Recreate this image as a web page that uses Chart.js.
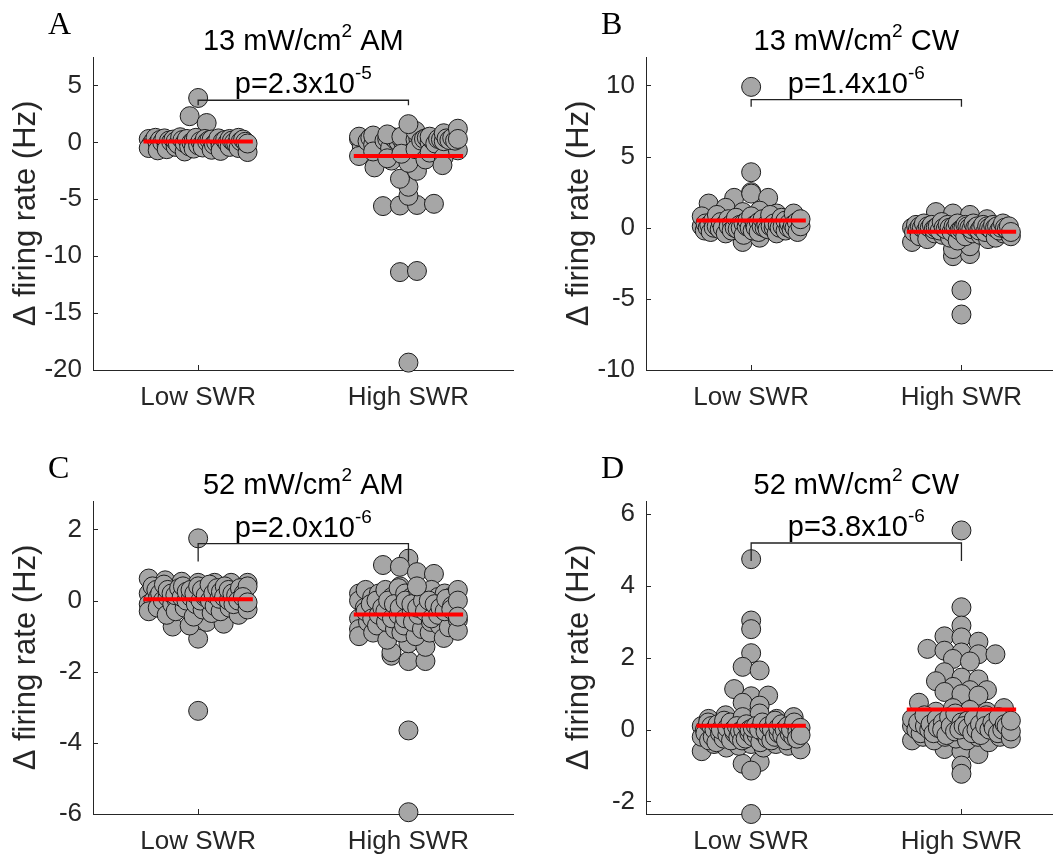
<!DOCTYPE html>
<html>
<head>
<meta charset="utf-8">
<script src="https://cdn.jsdelivr.net/npm/chart.js@4/dist/chart.umd.min.js"></script>
<style>
  html, body { margin: 0; padding: 0; background: #ffffff; width: 1053px; height: 856px; overflow: hidden; }
  canvas.panel { position: absolute; }
</style>
</head>
<body>
<canvas id="panelA" class="panel" width="540" height="420" style="left:0px;top:0px;width:540px;height:420px"></canvas>
<canvas id="panelB" class="panel" width="540" height="420" style="left:553px;top:0px;width:540px;height:420px"></canvas>
<canvas id="panelC" class="panel" width="540" height="420" style="left:0px;top:444px;width:540px;height:420px"></canvas>
<canvas id="panelD" class="panel" width="540" height="420" style="left:553px;top:444px;width:540px;height:420px"></canvas>
<script>
// ---- categories and labels ----
const categories = ['Low SWR', 'High SWR'];
const panelLetters = ['A', 'B', 'C', 'D'];
const panelTitles = [
  ['13 mW/cm', '2', ' AM'],
  ['13 mW/cm', '2', ' CW'],
  ['52 mW/cm', '2', ' AM'],
  ['52 mW/cm', '2', ' CW']
];
const pValueTexts = [
  ['p=2.3x10', '-5'],
  ['p=1.4x10', '-6'],
  ['p=2.0x10', '-6'],
  ['p=3.8x10', '-6']
];
const yAxisLabel = '\u0394 firing rate (Hz)';

// ---- y axis ranges and ticks ----
const yMinValues = [-20, -10, -6, -2.35];
const yMaxValues = [7.5, 12, 2.8, 6.37];
const yTicksA = [-20, -15, -10, -5, 0, 5];
const yTicksB = [-10, -5, 0, 5, 10];
const yTicksC = [-6, -4, -2, 0, 2];
const yTicksD = [-2, 0, 2, 4, 6];

// ---- significance brackets (level of bar, end of the short drops) ----
const bracketLevels = [3.7, 9.0, 1.6, 5.2];
const bracketEnds = [3.25, 8.5, 1.1, 4.7];

// ---- change in firing rate per unit (Hz) ----
const am13Low = [3.9, 2.3, 1.7, 0.3, -0.2, 0.1, -0.5, 0.4, -0.1, 0.2, -0.7, 0.0, 0.35, -0.3, 0.15, -0.6, 0.05, 0.25, -0.4, 0.1, -0.15, 0.45, -0.8, 0.2, -0.05, 0.3, -0.35, 0.0, 0.15, -0.55, 0.4, -0.25, 0.1, -0.1, 0.3, -0.45, 0.05, 0.2, -0.65, 0.25, -0.2, 0.0, 0.35, -0.3, 0.1, -0.75, 0.2, -0.05, 0.3, -0.4, 0.15, 0.0, -0.15, 0.4, -0.5, 0.1, 0.25, -0.85, 0.05, -0.1];
const am13High = [-19.35, -11.4, -11.3, -5.6, -5.55, -5.5, -5.4, -4.7, -3.9, -3.2, -2.5, -2.2, 0.3, -0.4, 0.2, 0.5, -1.2, 0.1, 0.4, -0.2, 0.25, -1.6, 0.35, 0.0, 0.6, -0.8, 0.15, 0.3, -0.5, 0.45, 0.2, -1.4, 0.05, 0.3, 0.7, -0.3, 0.4, -1.8, 0.2, 0.1, 0.5, -1.0, 0.25, 0.35, -0.6, 1.0, 0.15, -1.5, 0.3, 0.4, 0.0, -0.9, 0.2, 0.5, 1.6, -0.1, 0.3, -1.3, 0.25, 0.1, 0.8, -0.7, 0.35, 0.2, -2.0, 0.4, 0.15, 1.2, 0.3];
const cw13Low = [9.9, 3.9, 2.1, 2.5, 2.4, 2.1, 1.7, 1.4, -1.0, -0.7, 0.1, 0.8, -0.2, 0.3, 0.0, 1.1, 0.2, -0.3, 0.5, 0.0, 0.9, 0.1, -0.1, 0.4, 0.2, 1.2, 0.0, -0.4, 0.6, 0.1, 0.3, -0.2, 0.0, 0.7, 0.2, -0.1, 1.0, 0.0, 0.3, -0.5, 0.1, 0.5, 0.0, -0.2, 0.8, 0.2, 0.0, 0.4, -0.3, 0.1, 0.6, 0.0, 0.2, -0.1, 0.9, 0.1, 0.0, 0.3, -0.4, 0.2, 0.7, 0.0, 0.1, -0.2, 0.5, 0.0, 0.3, 1.0, -0.1, 0.2, 0.0, 0.4, -0.3, 0.1, 0.6];
const cw13High = [-6.1, -4.4, -2.0, -1.85, -1.5, -1.3, -1.0, 1.1, 1.0, 0.9, 0.6, 0.0, -0.3, 0.2, -0.1, 0.1, -0.6, 0.0, 0.3, -0.2, -0.8, 0.1, 0.0, -0.4, 0.2, -0.1, 0.0, -0.5, 0.1, -0.2, 0.4, 0.0, -0.7, -0.1, 0.2, 0.0, -0.3, 0.1, -0.9, 0.0, 0.3, -0.2, -0.1, 0.0, -0.6, 0.2, 0.1, -0.4, 0.0, -0.1, 0.3, -0.5, 0.0, 0.1, -0.2, -0.8, 0.0, 0.2, -0.3, 0.1, 0.0, -0.1, -0.7, 0.2, 0.0, -0.4, 0.1, -0.2, 0.0, 0.3, -0.6, 0.0, -0.1, 0.1, -0.3];
const am52Low = [1.75, -3.1, -1.07, -0.73, -0.7, -0.6, -0.65, 0.62, 0.57, 0.53, 0.2, -0.1, 0.4, 0.0, 0.3, -0.3, 0.1, 0.5, -0.2, 0.2, 0.0, 0.45, -0.4, 0.1, 0.3, -0.1, 0.2, 0.0, 0.5, -0.3, 0.15, 0.35, -0.2, 0.1, 0.4, 0.0, -0.45, 0.25, 0.1, 0.3, -0.1, 0.2, 0.5, -0.25, 0.0, 0.4, 0.1, -0.35, 0.3, 0.15, 0.0, 0.45, -0.15, 0.2, 0.35, -0.3, 0.05, 0.25, 0.4, -0.2, 0.1, 0.0, 0.3, -0.4, 0.2, 0.5, -0.1, 0.15, 0.35, 0.0, -0.25, 0.2, 0.4, 0.1, -0.05];
const am52High = [-5.95, -3.65, 1.18, 1.0, 0.95, 0.8, 0.75, -1.55, -1.7, -1.7, -1.45, -1.2, -1.3, 0.2, -0.5, 0.0, -0.8, 0.3, -0.2, -1.0, 0.1, -0.6, -0.3, 0.4, -0.9, -0.1, -0.5, 0.2, -0.7, 0.0, -0.4, -1.1, 0.3, -0.2, -0.6, 0.1, -0.8, -0.3, 0.0, -0.5, 0.35, -0.9, -0.1, -0.4, 0.2, -0.7, -0.2, 0.1, -1.0, -0.5, 0.0, -0.3, 0.25, -0.6, -0.8, 0.15, -0.1, -0.4, 0.3, -0.9, -0.2, 0.0, -0.6, 0.1, -0.3, -0.7, 0.2, -0.5, 0.0, -1.05, -0.1, 0.4, -0.4, -0.2, 0.1, -0.75, -0.3, 0.05, -0.55, -0.15, 0.3, -0.85, -0.25, 0.0, -0.45];
const cw52Low = [4.75, 3.04, 2.8, 2.13, 1.75, 1.65, 1.13, 0.93, 0.95, 0.75, 0.67, -0.95, -0.9, -1.14, -0.6, -2.35, 0.1, -0.2, 0.3, -0.4, 0.0, -0.1, 0.2, -0.3, -0.5, 0.1, -0.2, 0.0, 0.4, -0.35, -0.1, 0.15, -0.25, 0.0, -0.45, 0.25, -0.15, 0.05, -0.3, 0.2, -0.1, 0.0, -0.4, 0.35, -0.2, 0.1, -0.05, -0.3, 0.0, 0.45, -0.25, -0.1, 0.15, -0.5, 0.0, -0.2, 0.3, -0.15, 0.05, -0.35, 0.1, -0.1, 0.0, -0.25, 0.2, -0.4, -0.05, 0.1, -0.3, 0.0, 0.25, -0.2, -0.1, 0.05, -0.45, 0.15, -0.15, 0.0, -0.3, 0.35, -0.1, 0.1, -0.2, 0.0, -0.55, 0.2, -0.05, -0.25, 0.05, -0.15];
const cw52High = [5.55, 3.41, 2.9, 2.6, 2.57, 2.45, 2.25, 2.2, 2.15, 2.1, 2.1, 1.97, 1.9, 1.6, 1.45, 1.4, 1.35, 1.19, 1.1, 1.1, 1.05, 0.99, 0.95, 0.75, -0.54, -0.6, -0.68, -1.0, -1.23, -0.3, 0.1, -0.2, 0.3, 0.0, 0.5, -0.1, 0.2, 0.6, -0.3, 0.1, 0.0, 0.4, -0.2, 0.15, 0.3, -0.1, 0.05, 0.55, -0.25, 0.2, 0.0, 0.35, -0.15, 0.1, 0.45, -0.05, 0.2, -0.3, 0.0, 0.25, 0.1, -0.2, 0.5, 0.05, -0.1, 0.3, 0.0, -0.35, 0.15, 0.4, -0.15, 0.1, 0.0, 0.6, -0.2, 0.2, 0.05, -0.1, 0.35, 0.0, -0.25, 0.15, 0.1, -0.05, 0.25];

// ---- shared drawing geometry (canvas pixels) ----
const SANS = '"Liberation Sans", Arial, sans-serif';
const SERIF = '"Liberation Serif", "Times New Roman", serif';
const INK = '#262626';
const AREA = { left: 93, top: 57, right: 513.6, bottom: 370 };
const X_MIN = 0.5, X_MAX = 2.5;
const MARKER_R = 9.5;
const SPREAD_HALF = 0.235;   // half width of each swarm, x units
const MEAN_HALF = 0.26;      // half length of the mean bar, x units

function mean(arr) { return arr.reduce((s, v) => s + v, 0) / arr.length; }

// Spread points sideways: values are grouped into narrow horizontal bins,
// and each bin's points are laid out evenly around the category centre.
function swarm(values, centre, yMin, yMax) {
  const pxX = (AREA.right - AREA.left) / (X_MAX - X_MIN);
  const pxY = (AREA.bottom - AREA.top) / (yMax - yMin);
  const diam = 2 * MARKER_R + 1;
  const binH = diam * 0.55 / pxY;
  const lo = Math.min(...values);
  const bins = new Map();
  values.forEach((v, i) => {
    const b = Math.round((v - lo) / binH);
    if (!bins.has(b)) bins.set(b, []);
    bins.get(b).push(i);
  });
  const xs = new Array(values.length);
  const maxHalfPx = SPREAD_HALF * pxX;
  bins.forEach(idx => {
    const k = idx.length;
    const step = k > 1 ? Math.min(diam * 0.85, 2 * maxHalfPx / (k - 1)) : 0;
    idx.forEach((i, j) => { xs[i] = centre + ((j - (k - 1) / 2) * step) / pxX; });
  });
  return values.map((v, i) => ({ x: xs[i], y: v }));
}

function drawSupText(ctx, parts, cx, baseline, size, supSize, supRise) {
  ctx.font = `${size}px ${SANS}`;
  const w1 = ctx.measureText(parts[0]).width;
  const w3 = parts[2] ? ctx.measureText(parts[2]).width : 0;
  ctx.font = `${supSize}px ${SANS}`;
  const w2 = ctx.measureText(parts[1]).width;
  let x = cx - (w1 + w2 + w3) / 2;
  ctx.textAlign = 'left';
  ctx.textBaseline = 'alphabetic';
  ctx.font = `${size}px ${SANS}`;
  ctx.fillText(parts[0], x, baseline);
  x += w1;
  ctx.font = `${supSize}px ${SANS}`;
  ctx.fillText(parts[1], x, baseline - supRise);
  x += w2;
  if (parts[2]) {
    ctx.font = `${size}px ${SANS}`;
    ctx.fillText(parts[2], x, baseline);
  }
}

// Inward tick marks, panel letter, title, y label, bracket and p value.
const decorPlugin = {
  id: 'decor',
  beforeDatasetsDraw(chart) {
    const { ctx, chartArea: a, scales: { x, y } } = chart;
    ctx.save();
    ctx.strokeStyle = INK;
    ctx.lineWidth = 1;
    ctx.beginPath();
    y.ticks.forEach(t => {
      const py = Math.round(y.getPixelForValue(t.value)) + 0.5;
      ctx.moveTo(a.left, py); ctx.lineTo(a.left + 5, py);
    });
    x.ticks.forEach(t => {
      const px = Math.round(x.getPixelForValue(t.value)) + 0.5;
      ctx.moveTo(px, a.bottom); ctx.lineTo(px, a.bottom - 5);
    });
    ctx.stroke();
    ctx.restore();
  },
  afterDraw(chart, args, opts) {
    const { ctx, chartArea: a, scales: { x, y } } = chart;
    ctx.save();
    // panel letter
    ctx.fillStyle = '#000000';
    ctx.font = `32px ${SERIF}`;
    ctx.textAlign = 'left';
    ctx.textBaseline = 'alphabetic';
    ctx.fillText(opts.letter, 48, 34);
    // title
    const cx = (a.left + a.right) / 2;
    drawSupText(ctx, opts.title, cx, 50, 29, 19, 13);
    // y axis label
    ctx.save();
    ctx.translate(26, (a.top + a.bottom) / 2);
    ctx.rotate(-Math.PI / 2);
    ctx.font = `31px ${SANS}`;
    ctx.fillStyle = INK;
    ctx.textAlign = 'center';
    ctx.textBaseline = 'middle';
    ctx.fillText(yAxisLabel, 0, 0);
    ctx.restore();
    // significance bracket
    const x1 = x.getPixelForValue(1), x2 = x.getPixelForValue(2);
    const yb = y.getPixelForValue(opts.bracket), ye = y.getPixelForValue(opts.bracketEnd);
    ctx.strokeStyle = '#222222';
    ctx.lineWidth = 1.3;
    ctx.beginPath();
    ctx.moveTo(x1, ye); ctx.lineTo(x1, yb); ctx.lineTo(x2, yb); ctx.lineTo(x2, ye);
    ctx.stroke();
    ctx.fillStyle = '#000000';
    drawSupText(ctx, opts.pText, x.getPixelForValue(1.5), yb - 7, 29, 19, 14);
    ctx.restore();
  }
};

function makePanel(canvasId, k, low, high, yTicks) {
  const yMin = yMinValues[k], yMax = yMaxValues[k];
  const lowMean = mean(low), highMean = mean(high);
  const pointStyle = {
    type: 'scatter',
    backgroundColor: '#a6a6a6',
    borderColor: '#1c1c1c',
    borderWidth: 1,
    pointRadius: MARKER_R,
    pointHoverRadius: MARKER_R,
    order: 2,
    clip: false
  };
  const meanStyle = {
    type: 'line',
    borderColor: '#ff0000',
    borderWidth: 4,
    borderCapStyle: 'butt',
    pointRadius: 0,
    fill: false,
    order: 0,
    clip: false
  };
  new Chart(document.getElementById(canvasId), {
    type: 'scatter',
    data: {
      datasets: [
        Object.assign({ data: [{ x: 1 - MEAN_HALF, y: lowMean }, { x: 1 + MEAN_HALF, y: lowMean }] }, meanStyle),
        Object.assign({ data: [{ x: 2 - MEAN_HALF, y: highMean }, { x: 2 + MEAN_HALF, y: highMean }] }, meanStyle),
        Object.assign({ data: swarm(low, 1, yMin, yMax) }, pointStyle),
        Object.assign({ data: swarm(high, 2, yMin, yMax) }, pointStyle)
      ]
    },
    options: {
      responsive: false,
      animation: false,
      events: [],
      layout: { padding: { left: 0, top: AREA.top, right: 540 - AREA.right, bottom: 0 } },
      plugins: {
        legend: { display: false },
        tooltip: { enabled: false },
        decor: {
          letter: panelLetters[k],
          title: panelTitles[k],
          pText: pValueTexts[k],
          bracket: bracketLevels[k],
          bracketEnd: bracketEnds[k]
        }
      },
      scales: {
        x: {
          type: 'linear',
          min: X_MIN,
          max: X_MAX,
          afterBuildTicks: s => { s.ticks = [{ value: 1 }, { value: 2 }]; },
          afterFit: s => { s.height = 420 - AREA.bottom; },
          grid: { display: false, drawTicks: false },
          border: { display: true, color: INK, width: 1 },
          ticks: {
            autoSkip: false,
            maxRotation: 0,
            padding: 12,
            color: INK,
            font: { family: SANS, size: 26 },
            callback: v => categories[Math.round(v) - 1]
          }
        },
        y: {
          type: 'linear',
          min: yMin,
          max: yMax,
          afterBuildTicks: s => { s.ticks = yTicks.map(v => ({ value: v })); },
          afterFit: s => { s.width = AREA.left; },
          grid: { display: false, drawTicks: false },
          border: { display: true, color: INK, width: 1 },
          ticks: {
            autoSkip: false,
            padding: 11,
            color: INK,
            font: { family: SANS, size: 26 },
            callback: v => String(v)
          }
        }
      }
    },
    plugins: [decorPlugin]
  });
}

makePanel('panelA', 0, am13Low, am13High, yTicksA);
makePanel('panelB', 1, cw13Low, cw13High, yTicksB);
makePanel('panelC', 2, am52Low, am52High, yTicksC);
makePanel('panelD', 3, cw52Low, cw52High, yTicksD);
</script>
</body>
</html>
